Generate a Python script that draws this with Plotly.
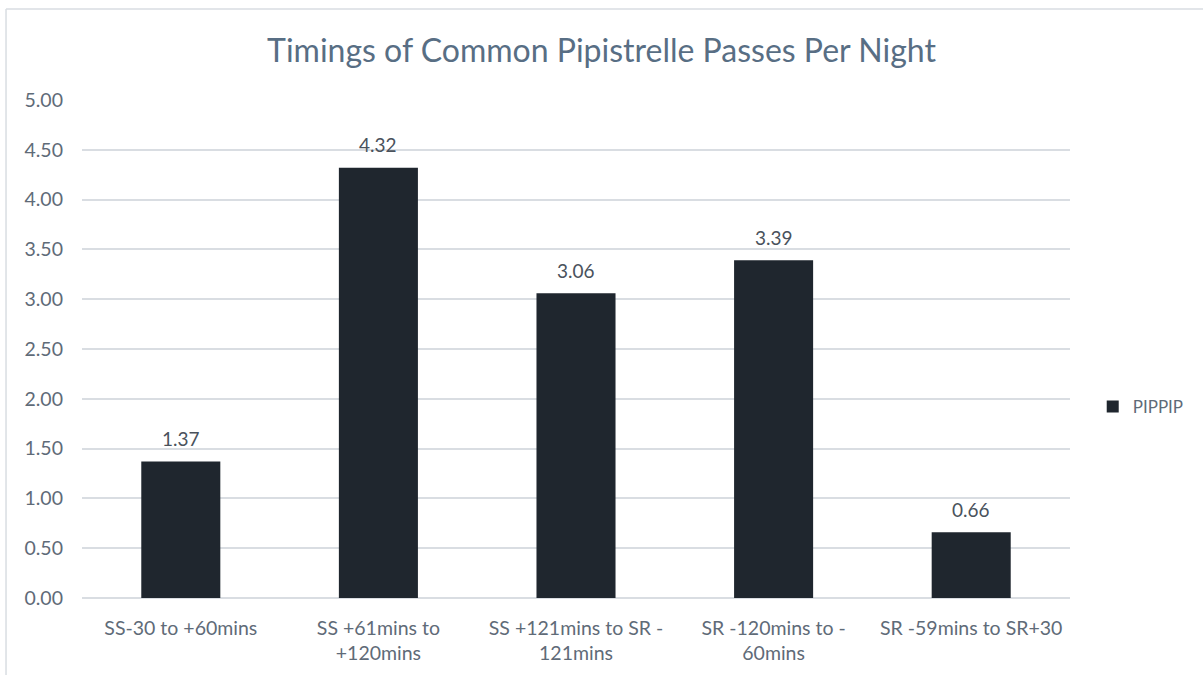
import plotly.graph_objects as go

# Passes per night by time window relative to sunset (SS) and sunrise (SR)
categories = [
    "SS-30 to +60mins",
    "SS +61mins to<br>+120mins",
    "SS +121mins to SR -<br>121mins",
    "SR -120mins to -<br>60mins",
    "SR -59mins to SR+30",
]
pippip = [1.37, 4.32, 3.06, 3.39, 0.66]
y_ticks = [0, 0.5, 1.0, 1.5, 2.0, 2.5, 3.0, 3.5, 4.0, 4.5, 5.0]

FONT = "Lato"
TICK_COLOR = "#5F6B78"
GRID_COLOR = "#D9DDE2"

fig = go.Figure()
fig.add_trace(go.Bar(
    x=categories,
    y=pippip,
    name="PIPPIP",
    marker=dict(color="#1F262E", line=dict(width=0)),
))

# value labels above each bar
for cat, val in zip(categories, pippip):
    fig.add_annotation(
        x=cat, y=val, text=f"{val:.2f}", showarrow=False,
        yanchor="middle", yshift=23,
        font=dict(family=FONT, size=19, color="#4A525C"),
    )

# chart border
fig.add_shape(type="line", xref="paper", yref="paper",
              x0=-0.0769, x1=1.2, y0=1.1827, y1=1.1827,
              line=dict(color=GRID_COLOR, width=1.5))
fig.add_shape(type="line", xref="paper", yref="paper",
              x0=-0.0769, x1=-0.0769, y0=1.1827, y1=-0.2,
              line=dict(color=GRID_COLOR, width=1.5))

fig.update_layout(
    width=1203, height=675,
    margin=dict(l=82, r=133, t=100, b=77),
    paper_bgcolor="white", plot_bgcolor="white",
    bargap=0.6,
    title=dict(
        text="Timings of Common Pipistrelle Passes Per Night",
        x=0.5, xanchor="center", y=0.925, yanchor="middle",
        font=dict(family=FONT, size=32, color="#586E84"),
    ),
    showlegend=True,
    legend=dict(
        x=1.023, xanchor="left", y=0.3835, yanchor="middle",
        font=dict(family=FONT, size=17, color=TICK_COLOR),
        bgcolor="rgba(0,0,0,0)",
    ),
    xaxis=dict(
        showgrid=False, showline=False, ticks="",
        ticklabelstandoff=16,
        tickfont=dict(family=FONT, size=19.5, color=TICK_COLOR),
    ),
    yaxis=dict(
        range=[0, 5], tickvals=y_ticks, tickformat=".2f",
        showgrid=True, gridcolor=GRID_COLOR, gridwidth=1.5,
        zeroline=True, zerolinecolor=GRID_COLOR, zerolinewidth=1.5,
        showline=False, ticks="", ticklabelstandoff=18,
        tickfont=dict(family=FONT, size=19.5, color=TICK_COLOR),
    ),
)

fig.write_html("out.html")
